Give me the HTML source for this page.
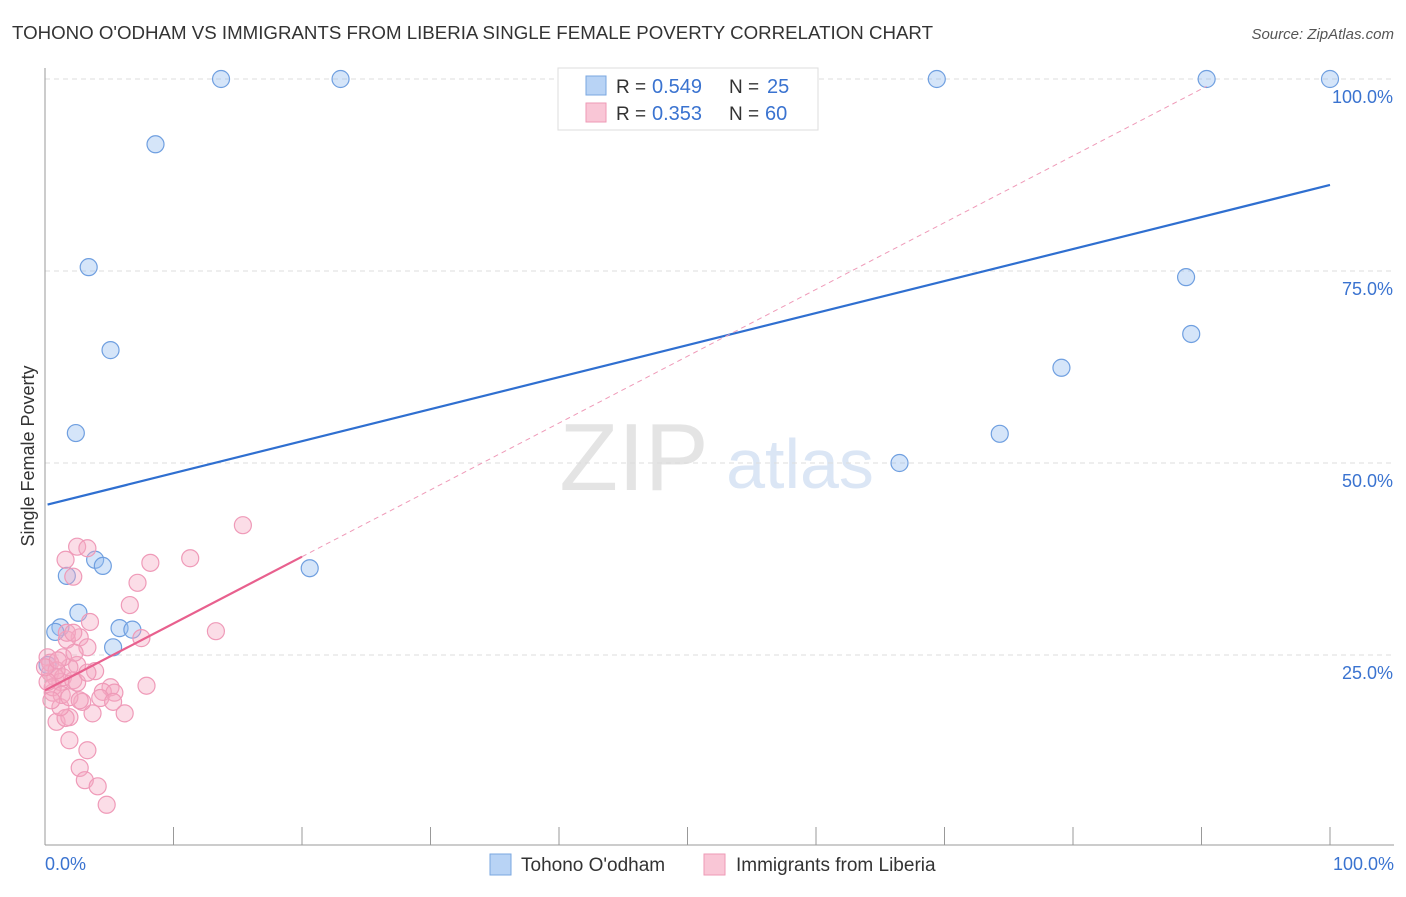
<!DOCTYPE html>
<html><head><meta charset="utf-8"><style>
body{margin:0;background:#fff;font-family:"Liberation Sans",sans-serif}
svg text{font-family:"Liberation Sans",sans-serif}
</style></head><body>
<svg id="c" width="1406" height="892">
<text x="12" y="39" font-size="18" textLength="921" lengthAdjust="spacingAndGlyphs" fill="#333">TOHONO O'ODHAM VS IMMIGRANTS FROM LIBERIA SINGLE FEMALE POVERTY CORRELATION CHART</text>
<text x="1394" y="39" font-size="15" fill="#555" font-style="italic" text-anchor="end">Source: ZipAtlas.com</text>
<text x="634" y="490" font-size="96" fill="#e4e4e4" font-family="Liberation Serif" text-anchor="middle">ZIP</text>
<text x="800" y="488" font-size="70" fill="#dbe6f5" text-anchor="middle">atlas</text>
<g id="grid"></g><g id="axes"></g><g id="marks"></g>
<text transform="translate(34,456) rotate(-90)" font-size="18" fill="#333" text-anchor="middle">Single Female Poverty</text>
<g>
<rect x="558" y="68" width="260" height="62" fill="#fff" stroke="#ddd"/>
<rect x="586" y="76" width="20" height="19" fill="#b8d3f5" stroke="#7aa7e0"/>
<rect x="586" y="103" width="20" height="19" fill="#f9c6d6" stroke="#ee9ab6"/>
<text x="616" y="93" font-size="19" fill="#333">R =</text>
<text x="652" y="93" font-size="20" fill="#3a73d0">0.549</text>
<text x="729" y="93" font-size="19" fill="#333">N =</text>
<text x="767" y="93" font-size="20" fill="#3a73d0">25</text>
<text x="616" y="120" font-size="19" fill="#333">R =</text>
<text x="652" y="120" font-size="20" fill="#3a73d0">0.353</text>
<text x="729" y="120" font-size="19" fill="#333">N =</text>
<text x="765" y="120" font-size="20" fill="#3a73d0">60</text>
</g>
<g>
<rect x="490" y="854" width="21" height="21" fill="#b8d3f5" stroke="#7aa7e0"/>
<text x="521" y="871" font-size="19" fill="#333">Tohono O'odham</text>
<rect x="704" y="854" width="21" height="21" fill="#f9c6d6" stroke="#ee9ab6"/>
<text x="736" y="871" font-size="19" fill="#333">Immigrants from Liberia</text>
</g>
</svg>
<script>
const blueX=[13.7,23.0,69.4,90.4,100,8.6,3.4,5.1,2.4,88.8,89.2,79.1,74.3,66.5,1.7,3.9,4.5,20.6,2.6,1.2,0.8,5.8,6.8,5.3,0.2];
const blueY=[100,100,100,100,100,91.5,75.5,64.7,53.9,74.2,66.8,62.4,53.8,50.0,35.3,37.4,36.6,36.3,30.5,28.6,28.0,28.5,28.3,26.0,23.7];
const pinkX=[15.4,2.5,3.3,1.6,2.2,8.2,11.3,7.2,6.6,3.5,13.3,7.5,2.7,3.3,1.7,3.9,2.5,7.9,5.1,4.5,5.4,4.3,5.3,6.2,3.7,2.9,0.9,1.9,1.6,1.2,0.6,1.9,3.3,2.7,3.1,4.1,4.8,0.4,0.8,1.2,0.6,1.4,2.2,1.9,0.2,1.4,0.4,0.9,2.3,1.7,2.2,0.2,1.3,0.5,2.5,0,1.0,1.9,2.7,3.3];
const pinkY=[41.9,39.1,38.9,37.4,35.2,37.0,37.6,34.4,31.5,29.3,28.1,27.2,27.3,26.0,27.0,22.9,23.7,21.0,20.8,20.2,20.1,19.4,18.9,17.4,17.4,18.9,16.3,16.9,16.8,18.2,20.1,13.9,12.6,10.3,8.7,7.9,5.5,22.7,22.1,21.5,20.8,22.1,21.7,23.4,24.7,24.7,24.0,23.0,25.3,27.9,27.9,21.5,19.8,19.1,21.4,23.4,24.3,19.5,19.1,22.7];
const blueTrend=[44.5,86.2];
const pinkTrend=[20.4,0.87];
const yTicks=[25,50,75,100];
const yTickLabels=["25.0%","50.0%","75.0%","100.0%"];
const xTicks=[0,10,20,30,40,50,60,70,80,90,100];
const NS="http://www.w3.org/2000/svg";
const X=v=>45+v*12.85, Y=v=>847-v*7.68;
function mk(p,t,a){const e=document.createElementNS(NS,t);for(const k in a)e.setAttribute(k,a[k]);p.appendChild(e);return e;}
const grid=document.getElementById('grid'),axes=document.getElementById('axes'),marks=document.getElementById('marks');
yTicks.forEach((v,i)=>{
 const l=mk(grid,'line',{x1:45,x2:1394,y1:Y(v),y2:Y(v),stroke:'#ddd','stroke-dasharray':'5,4'});
 
 
 const t=mk(axes,'text',{x:1393,y:Y(v)+24,'font-size':18,fill:'#3a73d0','text-anchor':'end'});t.textContent=yTickLabels[i];
 
 
});
const la=mk(axes,'line',{x1:45,x2:45,y1:68,y2:845,stroke:'#999'});


const lb=mk(axes,'line',{x1:45,x2:1394,y1:845,y2:845,stroke:'#999'});


xTicks.forEach(v=>{
 const t=mk(axes,'line',{x1:X(v),x2:X(v),y1:827,y2:845,stroke:'#999'});
 
 
});
const x0=mk(axes,'text',{x:45,y:870,'font-size':18,fill:'#3a73d0'});x0.textContent='0.0%';


const x1=mk(axes,'text',{x:1394,y:870,'font-size':18,fill:'#3a73d0','text-anchor':'end'});x1.textContent='100.0%';


blueX.forEach((v,i)=>{
 const c=mk(marks,'circle',{cx:X(v),cy:Y(blueY[i]),r:8.5,fill:'rgba(150,190,240,0.4)',stroke:'#6f9fe0','stroke-width':1.2});
 
 
});
pinkX.forEach((v,i)=>{
 const c=mk(marks,'circle',{cx:X(v),cy:Y(pinkY[i]),r:8.5,fill:'rgba(246,170,195,0.4)',stroke:'#ef9ab8','stroke-width':1.2});
 
 
});
const bt=mk(marks,'line',{x1:X(0.2),y1:Y(blueTrend[0]+(blueTrend[1]-blueTrend[0])*0.002),x2:X(100),y2:Y(blueTrend[1]),stroke:'#2f6fd0','stroke-width':2.2});


const pd=mk(marks,'line',{x1:X(20),y1:Y(pinkTrend[0]+pinkTrend[1]*20),x2:X(90.4),y2:Y(pinkTrend[0]+pinkTrend[1]*90.4),stroke:'#ef9ab8','stroke-width':1,'stroke-dasharray':'5,4'});


const pt=mk(marks,'line',{x1:X(0),y1:Y(pinkTrend[0]),x2:X(20),y2:Y(pinkTrend[0]+pinkTrend[1]*20),stroke:'#e8608e','stroke-width':2.2});


</script>
</body></html>
